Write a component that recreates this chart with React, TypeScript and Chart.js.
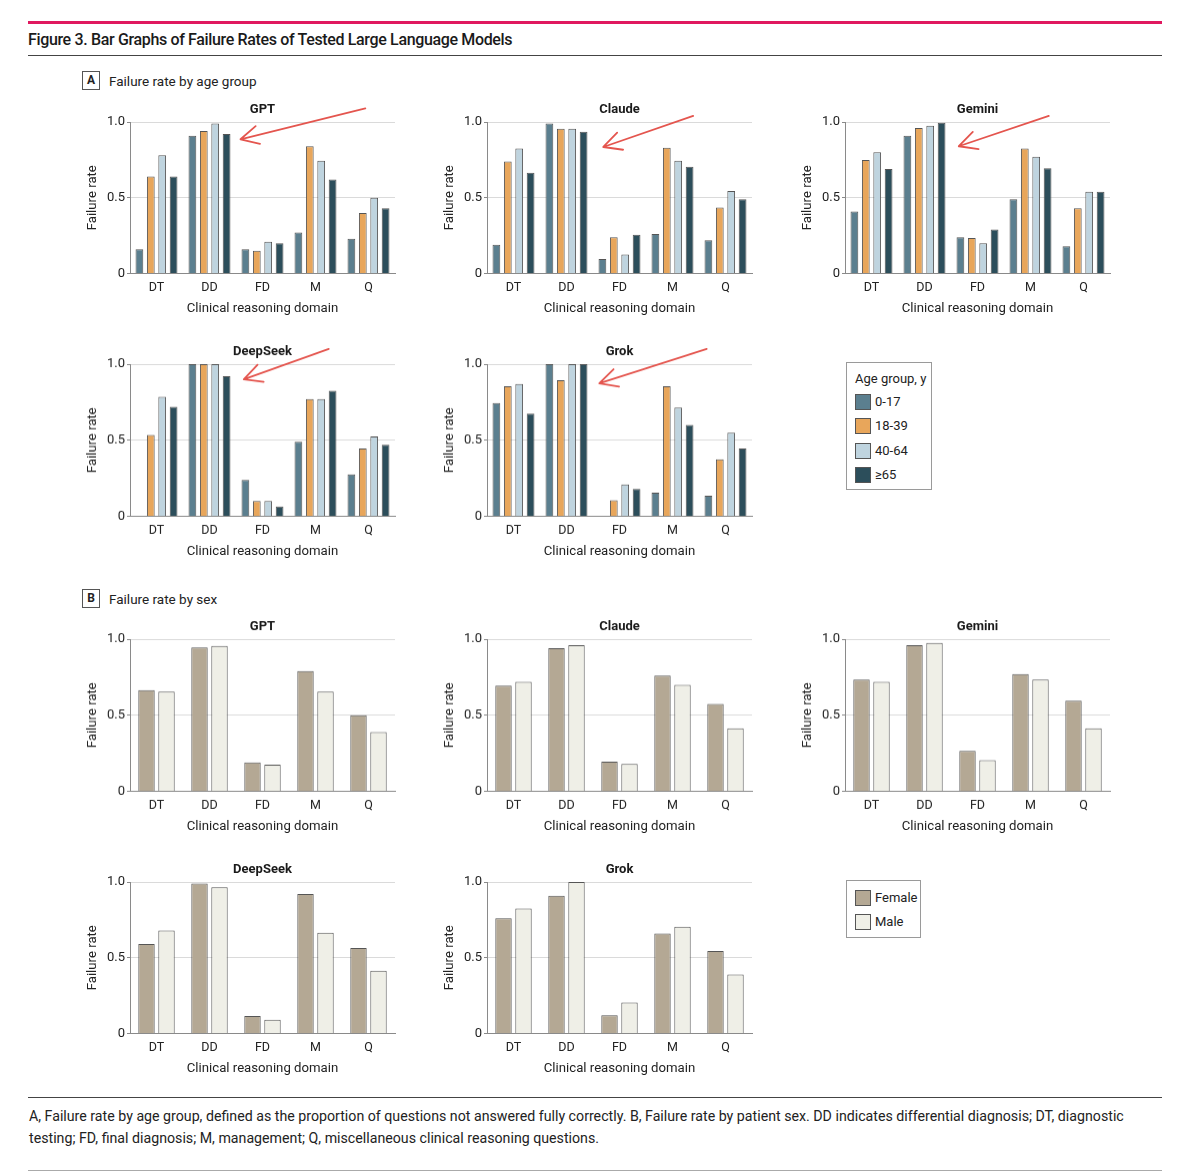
import React, { useEffect, useRef } from 'react';
import { Chart, registerables } from 'chart.js';

Chart.register(...registerables);
Chart.defaults.font.family = 'Roboto, sans-serif';

// ---------- data ----------
const domains = ['DT', 'DD', 'FD', 'M', 'Q'];
const ageGroups = ['0-17', '18-39', '40-64', '≥65'];
const ageColors = ['#5b7f8f', '#e8a65b', '#bfd4df', '#2c4e5b'];
const sexGroups = ['Female', 'Male'];
const sexColors = ['#b4a894', '#efefe7'];
const yTickValues = [0, 0.5, 1];
const yTickLabels = ['0', '0.5', '1.0'];

// Panel A – one row per age group, one value per domain
const gptAge = [
  [0.16, 0.91, 0.16, 0.27, 0.23],
  [0.64, 0.94, 0.15, 0.84, 0.4],
  [0.78, 0.99, 0.21, 0.745, 0.5],
  [0.64, 0.92, 0.2, 0.62, 0.43],
];
const claudeAge = [
  [0.19, 0.99, 0.095, 0.26, 0.22],
  [0.74, 0.955, 0.24, 0.83, 0.435],
  [0.825, 0.955, 0.125, 0.745, 0.545],
  [0.665, 0.935, 0.255, 0.705, 0.49],
];
const geminiAge = [
  [0.41, 0.91, 0.24, 0.49, 0.18],
  [0.75, 0.96, 0.235, 0.825, 0.43],
  [0.8, 0.975, 0.2, 0.77, 0.54],
  [0.69, 0.995, 0.29, 0.695, 0.54],
];
const deepseekAge = [
  [0, 1.0, 0.24, 0.49, 0.275],
  [0.535, 1.0, 0.1, 0.77, 0.445],
  [0.785, 1.0, 0.1, 0.77, 0.525],
  [0.72, 0.92, 0.065, 0.825, 0.47],
];
const grokAge = [
  [0.745, 1.0, 0, 0.155, 0.135],
  [0.855, 0.895, 0.105, 0.855, 0.375],
  [0.87, 1.0, 0.21, 0.715, 0.55],
  [0.675, 1.0, 0.18, 0.6, 0.445],
];

// Panel B – one row per sex, one value per domain
const gptSex = [
  [0.665, 0.945, 0.19, 0.79, 0.5],
  [0.655, 0.955, 0.175, 0.655, 0.39],
];
const claudeSex = [
  [0.695, 0.94, 0.195, 0.76, 0.575],
  [0.72, 0.96, 0.18, 0.7, 0.415],
];
const geminiSex = [
  [0.735, 0.96, 0.265, 0.77, 0.595],
  [0.72, 0.975, 0.205, 0.735, 0.415],
];
const deepseekSex = [
  [0.59, 0.99, 0.115, 0.92, 0.565],
  [0.68, 0.965, 0.09, 0.665, 0.415],
];
const grokSex = [
  [0.76, 0.91, 0.12, 0.66, 0.545],
  [0.825, 1.0, 0.205, 0.705, 0.39],
];

// Red arrow annotations (category-index units, failure-rate units)
type Arrow = { tail: [number, number]; tip: [number, number] };
const gptArrow: Arrow = { tail: [3.94, 1.09], tip: [1.585, 0.886] };
const claudeArrow: Arrow = { tail: [3.39, 1.04], tip: [1.694, 0.835] };
const geminiArrow: Arrow = { tail: [3.345, 1.04], tip: [1.647, 0.84] };
const deepseekArrow: Arrow = { tail: [3.25, 1.1], tip: [1.647, 0.9] };
const grokArrow: Arrow = { tail: [3.645, 1.1], tip: [1.619, 0.874] };

// ---------- layout ----------
const colAxisX = [129.5, 487, 844.5];
const rowTop = [121.7, 364.3, 639.3, 881.7];
const plotW = 265;
const plotH = 151.5;
const yAxisW = 50;
const titleH = 24;
const xAxisH = 46;
const padR = 3;

type PanelProps = {
  title: string;
  series: number[][];
  names: string[];
  colors: string[];
  col: number;
  row: number;
  catPct: number;
  barPct: number;
  arrow?: Arrow;
};

function BarPanel({ title, series, names, colors, col, row, catPct, barPct, arrow }: PanelProps) {
  const ref = useRef<HTMLCanvasElement>(null);
  useEffect(() => {
    const titlePlugin = {
      id: 'centeredTitle',
      afterDraw(chart: any) {
        const { ctx, chartArea } = chart;
        ctx.save();
        ctx.font = 'bold 13px Roboto, sans-serif';
        ctx.fillStyle = '#1a1a1a';
        ctx.textAlign = 'center';
        ctx.textBaseline = 'middle';
        ctx.fillText(title, (chartArea.left + chartArea.right) / 2, chartArea.top - 12);
        ctx.restore();
      },
    };
    const arrowPlugin = {
      id: 'arrowNote',
      afterDraw(chart: any) {
        if (!arrow) return;
        const xs = chart.scales.x;
        const ys = chart.scales.y;
        const cw = xs.getPixelForValue(1) - xs.getPixelForValue(0);
        const px = (v: number) => xs.getPixelForValue(0) + v * cw;
        const x1 = px(arrow.tail[0]);
        const y1 = ys.getPixelForValue(arrow.tail[1]);
        const x2 = px(arrow.tip[0]);
        const y2 = ys.getPixelForValue(arrow.tip[1]);
        const ctx = chart.ctx;
        ctx.save();
        ctx.strokeStyle = '#e4554e';
        ctx.lineWidth = 1.8;
        ctx.lineCap = 'round';
        ctx.lineJoin = 'round';
        ctx.beginPath();
        ctx.moveTo(x1, y1);
        ctx.lineTo(x2, y2);
        const ang = Math.atan2(y1 - y2, x1 - x2);
        const L = 20;
        const a = 0.47;
        ctx.moveTo(x2 + L * Math.cos(ang - a), y2 + L * Math.sin(ang - a));
        ctx.lineTo(x2, y2);
        ctx.lineTo(x2 + L * Math.cos(ang + a), y2 + L * Math.sin(ang + a));
        ctx.stroke();
        ctx.restore();
      },
    };
    const chart = new Chart(ref.current as HTMLCanvasElement, {
      type: 'bar',
      data: {
        labels: domains,
        datasets: series.map((d, i) => ({
          label: names[i],
          data: d,
          backgroundColor: colors[i],
          borderColor: '#555',
          borderWidth: 1,
          categoryPercentage: catPct,
          barPercentage: barPct,
        })),
      },
      options: {
        animation: false,
        responsive: true,
        maintainAspectRatio: false,
        layout: { padding: { left: 0, right: padR, top: titleH, bottom: 0 } },
        plugins: {
          legend: { display: false },
          tooltip: { enabled: false },
          title: { display: false },
        },
        scales: {
          x: {
            grid: { display: false, drawTicks: false },
            border: { display: true, color: '#8a8a8a' },
            ticks: { font: { size: 12.5 }, color: '#222', padding: 7, maxRotation: 0, autoSkip: false },
            title: {
              display: true,
              text: 'Clinical reasoning domain',
              font: { size: 13.2 },
              color: '#222',
              padding: { top: 0, bottom: 3 },
            },
            afterFit: (s: any) => {
              s.height = xAxisH;
            },
          },
          y: {
            min: 0,
            max: 1,
            afterBuildTicks: (s: any) => {
              s.ticks = yTickValues.map((v) => ({ value: v }));
            },
            ticks: {
              callback: (v: any) => {
                const i = yTickValues.indexOf(Number(v));
                return i >= 0 ? yTickLabels[i] : '';
              },
              font: { size: 13 },
              color: '#222',
              padding: 2,
            },
            grid: {
              color: (c: any) => (c.tick && c.tick.value === 0 ? 'rgba(0,0,0,0)' : '#dadada'),
              tickColor: '#8a8a8a',
              tickLength: 3,
              drawTicks: true,
            },
            border: { display: true, color: '#8a8a8a' },
            title: {
              display: true,
              text: 'Failure rate',
              font: { size: 13.2 },
              color: '#222',
              padding: { top: 4.5, bottom: 0 },
            },
            afterFit: (s: any) => {
              s.width = yAxisW;
            },
          },
        },
      } as any,
      plugins: [titlePlugin, arrowPlugin],
    });
    return () => chart.destroy();
  }, []);
  const left = colAxisX[col] - yAxisW;
  const top = rowTop[row] - titleH;
  return (
    <div
      style={{
        position: 'absolute',
        left,
        top,
        width: yAxisW + plotW + padR,
        height: titleH + plotH + xAxisH,
      }}
    >
      <canvas ref={ref} />
    </div>
  );
}

function Legend({ left, top, width, height, heading, names, colors }: any) {
  const startTop = heading ? 31 : 9;
  return (
    <div
      style={{
        position: 'absolute',
        left,
        top,
        width,
        height,
        border: '1px solid #9a9a9a',
        boxSizing: 'border-box',
        fontFamily: 'Roboto, sans-serif',
        fontSize: 13,
        color: '#222',
      }}
    >
      {heading && (
        <div style={{ position: 'absolute', left: 8, top: 8, lineHeight: '16px', whiteSpace: 'nowrap' }}>{heading}</div>
      )}
      {names.map((n: string, i: number) => (
        <div key={n} style={{ position: 'absolute', left: 8, top: startTop + i * 24.3, height: 16, display: 'flex', alignItems: 'center' }}>
          <div style={{ width: 16, height: 16, background: colors[i], border: '1px solid #555', boxSizing: 'border-box' }} />
          <div style={{ marginLeft: 4, lineHeight: '16px', whiteSpace: 'nowrap' }}>{n}</div>
        </div>
      ))}
    </div>
  );
}

function PanelLabel({ top, letter, text }: { top: number; letter: string; text: string }) {
  return (
    <>
      <div
        style={{
          position: 'absolute',
          left: 82,
          top,
          width: 18,
          height: 19,
          border: '1px solid #555',
          boxSizing: 'border-box',
          fontSize: 12,
          fontWeight: 700,
          lineHeight: '17px',
          textAlign: 'center',
          color: '#222',
        }}
      >
        {letter}
      </div>
      <div style={{ position: 'absolute', left: 109, top: top + 2, fontSize: 13.5, lineHeight: '16px', color: '#222', whiteSpace: 'nowrap' }}>
        {text}
      </div>
    </>
  );
}

export default function App() {
  const aProps = { names: ageGroups, colors: ageColors, catPct: 0.86, barPct: 0.68 };
  const bProps = { names: sexGroups, colors: sexColors, catPct: 0.755, barPct: 0.82 };
  return (
    <div
      style={{
        position: 'absolute',
        left: 0,
        top: 0,
        width: 1200,
        height: 1174,
        background: '#fff',
        overflow: 'hidden',
        fontFamily: 'Roboto, sans-serif',
      }}
    >
      <div style={{ position: 'absolute', left: 28, top: 21, width: 1134, height: 3, background: '#e0185f' }} />
      <div
        style={{
          position: 'absolute',
          left: 28,
          top: 30,
          fontSize: 16,
          fontWeight: 500,
          letterSpacing: '-0.35px',
          lineHeight: '20px',
          color: '#1a1a1a',
          whiteSpace: 'nowrap',
        }}
      >
        Figure 3. Bar Graphs of Failure Rates of Tested Large Language Models
      </div>
      <div style={{ position: 'absolute', left: 28, top: 55, width: 1134, height: 1, background: '#444' }} />

      <PanelLabel top={71} letter="A" text="Failure rate by age group" />
      <BarPanel title="GPT" series={gptAge} col={0} row={0} arrow={gptArrow} {...aProps} />
      <BarPanel title="Claude" series={claudeAge} col={1} row={0} arrow={claudeArrow} {...aProps} />
      <BarPanel title="Gemini" series={geminiAge} col={2} row={0} arrow={geminiArrow} {...aProps} />
      <BarPanel title="DeepSeek" series={deepseekAge} col={0} row={1} arrow={deepseekArrow} {...aProps} />
      <BarPanel title="Grok" series={grokAge} col={1} row={1} arrow={grokArrow} {...aProps} />
      <Legend left={846} top={362} width={86} height={128} heading="Age group, y" names={ageGroups} colors={ageColors} />

      <PanelLabel top={589} letter="B" text="Failure rate by sex" />
      <BarPanel title="GPT" series={gptSex} col={0} row={2} {...bProps} />
      <BarPanel title="Claude" series={claudeSex} col={1} row={2} {...bProps} />
      <BarPanel title="Gemini" series={geminiSex} col={2} row={2} {...bProps} />
      <BarPanel title="DeepSeek" series={deepseekSex} col={0} row={3} {...bProps} />
      <BarPanel title="Grok" series={grokSex} col={1} row={3} {...bProps} />
      <Legend left={846} top={880} width={75} height={58} names={sexGroups} colors={sexColors} />

      <div style={{ position: 'absolute', left: 28, top: 1097, width: 1134, height: 1, background: '#444' }} />
      <div style={{ position: 'absolute', left: 29, top: 1105, fontSize: 14.2, lineHeight: '22px', color: '#222', whiteSpace: 'nowrap' }}>
        A, Failure rate by age group, defined as the proportion of questions not answered fully correctly. B, Failure rate by patient sex. DD indicates differential diagnosis; DT, diagnostic
        <br />
        testing; FD, final diagnosis; M, management; Q, miscellaneous clinical reasoning questions.
      </div>
      <div style={{ position: 'absolute', left: 28, top: 1170, width: 1134, height: 1, background: '#aaa' }} />
    </div>
  );
}
